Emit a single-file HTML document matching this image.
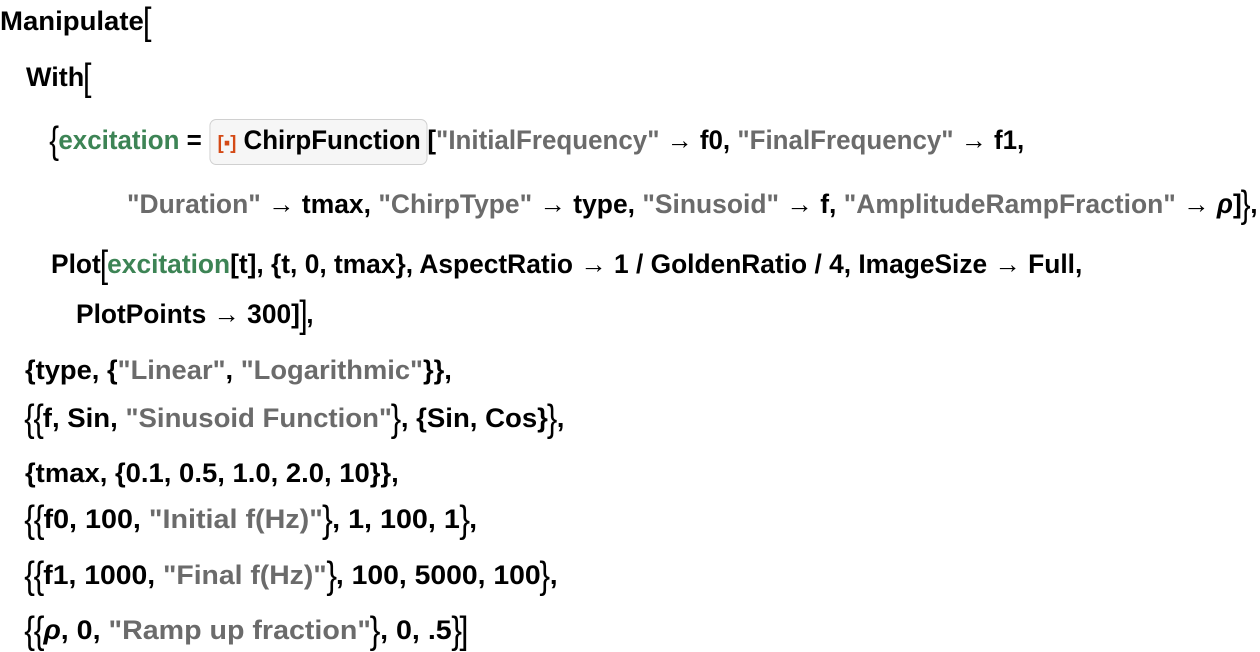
<!DOCTYPE html>
<html><head><meta charset="utf-8"><style>
html,body{margin:0;padding:0;background:#fff;width:1260px;height:652px;overflow:hidden}
.ln{position:absolute;white-space:nowrap;font-family:"Liberation Sans",sans-serif;font-weight:bold;font-size:27px;line-height:30px;height:30px;color:#000;transform-origin:0 50%}
.s{color:#6b6b6b}
.g{color:#3d8455}
.b{font-size:38px;font-weight:normal;display:inline-block;transform:scaleX(0.8);transform-origin:center;vertical-align:-4px;margin:0 -2px}
.box{display:inline-block;border:1.5px solid #d0d0d0;border-radius:7px;background:#f6f6f6;padding:5px 6px 5px 8px;line-height:30px;vertical-align:baseline;margin:-6px 0}
.ic{color:#d44a16;font-size:19px}
.it{font-style:italic}
</style></head><body>
<div class="ln" data-l="0" data-r="152" style="top:6px">Manipulate<span class="b">[</span></div>
<div class="ln" data-l="26" data-r="92" style="top:62px">With<span class="b">[</span></div>
<div class="ln" data-l="50" data-r="1024" style="top:125px"><span class="b">{</span><span class="g">excitation</span> = <span class="box"><span class="ic">[▪]</span> ChirpFunction</span>[<span class="s">"InitialFrequency"</span> → f0, <span class="s">"FinalFrequency"</span> → f1,</div>
<div class="ln" data-l="127" data-r="1258" style="top:189px"><span class="s">"Duration"</span> → tmax, <span class="s">"ChirpType"</span> → type, <span class="s">"Sinusoid"</span> → f, <span class="s">"AmplitudeRampFraction"</span> → <span class="it">ρ</span>]<span class="b">}</span>,</div>
<div class="ln" data-l="51" data-r="1082" style="top:249px">Plot<span class="b">[</span><span class="g">excitation</span>[t], {t, 0, tmax}, AspectRatio → 1 / GoldenRatio / 4, ImageSize → Full,</div>
<div class="ln" data-l="76" data-r="314" style="top:299px">PlotPoints → 300]<span class="b">]</span>,</div>
<div class="ln" data-l="25" data-r="452" style="top:355px">{type, {<span class="s">"Linear"</span>, <span class="s">"Logarithmic"</span>}},</div>
<div class="ln" data-l="25" data-r="564" style="top:403px"><span class="b">{</span><span class="b">{</span>f, Sin, <span class="s">"Sinusoid Function"</span><span class="b">}</span>, {Sin, Cos}<span class="b">}</span>,</div>
<div class="ln" data-l="25" data-r="399" style="top:458px">{tmax, {0.1, 0.5, 1.0, 2.0, 10}},</div>
<div class="ln" data-l="25" data-r="477" style="top:504px"><span class="b">{</span><span class="b">{</span>f0, 100, <span class="s">"Initial f(Hz)"</span><span class="b">}</span>, 1, 100, 1<span class="b">}</span>,</div>
<div class="ln" data-l="25" data-r="558" style="top:560px"><span class="b">{</span><span class="b">{</span>f1, 1000, <span class="s">"Final f(Hz)"</span><span class="b">}</span>, 100, 5000, 100<span class="b">}</span>,</div>
<div class="ln" data-l="25" data-r="469" style="top:615px"><span class="b">{</span><span class="b">{</span><span class="it">ρ</span>, 0, <span class="s">"Ramp up fraction"</span><span class="b">}</span>, 0, .5<span class="b">}</span><span class="b">]</span></div>
<script>
document.querySelectorAll('.ln').forEach(function(e){
  var l=+e.dataset.l,r=+e.dataset.r;
  e.style.left=l+'px';
  var w=e.scrollWidth;
  if(w>0)e.style.transform='scaleX('+((r-l)/w)+')';
});
</script>
</body></html>
